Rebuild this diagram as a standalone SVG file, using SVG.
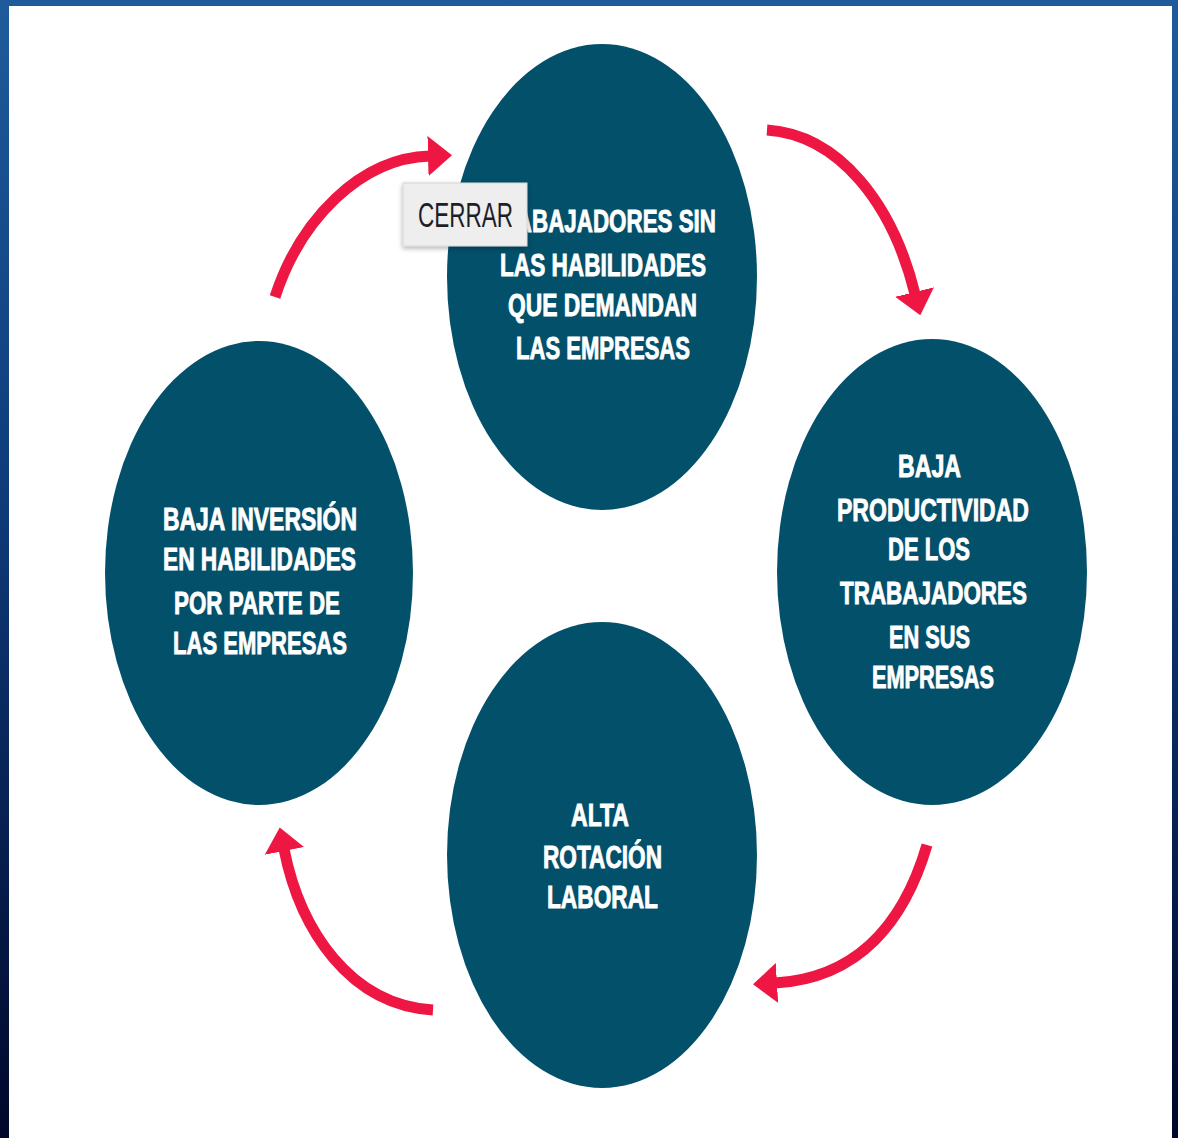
<svg xmlns="http://www.w3.org/2000/svg" width="1178" height="1138" viewBox="0 0 1178 1138">
<defs>
<linearGradient id="bg" x1="0" y1="0" x2="0" y2="1">
<stop offset="0" stop-color="#1f5b9b"/>
<stop offset="0.45" stop-color="#0e3a78"/>
<stop offset="1" stop-color="#00072a"/>
</linearGradient>
<marker id="ah" viewBox="0 0 24 40" markerWidth="24" markerHeight="40" refX="2" refY="20" orient="auto" markerUnits="userSpaceOnUse">
<path d="M0,0 L24,20 L0,40 Z" fill="#ee1642"/>
</marker>
<filter id="sh" x="-20%" y="-20%" width="140%" height="150%">
<feDropShadow dx="0" dy="2" stdDeviation="2.5" flood-color="#000" flood-opacity="0.3"/>
</filter>
<style>
.node{fill:#03506b}
.lbl{font-family:"Liberation Sans",Arial,sans-serif;font-weight:bold;font-size:31px;fill:#ffffff;stroke:#ffffff;stroke-width:0.9;text-anchor:start}
.arr{fill:none;stroke:#ee1642;stroke-width:11;marker-end:url(#ah)}
.btn{font-family:"Liberation Sans",Arial,sans-serif;font-size:35px;fill:#1e1e28}
</style>
</defs>
<rect x="0" y="0" width="1178" height="1138" fill="url(#bg)"/>
<rect x="9" y="6" width="1163" height="1132" fill="#ffffff"/>

<g id="connectors">
<path class="arr" d="M275,297 C300,220 360,158 430,156"/>
<path class="arr" d="M767,130 C840,135 893,205 915,294"/>
<path class="arr" d="M927,845 C905,920 860,978 775,983"/>
<path class="arr" d="M433,1010 C350,1005 300,930 284,849"/>
</g>

<g id="node-top">
<ellipse class="node" cx="602" cy="277" rx="155" ry="233"/>
<text class="lbl" x="486" y="232" textLength="230" lengthAdjust="spacingAndGlyphs">TRABAJADORES SIN</text>
<text class="lbl" x="500" y="276" textLength="206" lengthAdjust="spacingAndGlyphs">LAS HABILIDADES</text>
<text class="lbl" x="508" y="316" textLength="189" lengthAdjust="spacingAndGlyphs">QUE DEMANDAN</text>
<text class="lbl" x="516" y="359" textLength="174" lengthAdjust="spacingAndGlyphs">LAS EMPRESAS</text>
</g>

<g id="node-right">
<ellipse class="node" cx="932" cy="572" rx="155" ry="233"/>
<text class="lbl" x="898" y="477" textLength="63" lengthAdjust="spacingAndGlyphs">BAJA</text>
<text class="lbl" x="837" y="521" textLength="192" lengthAdjust="spacingAndGlyphs">PRODUCTIVIDAD</text>
<text class="lbl" x="888" y="560" textLength="82" lengthAdjust="spacingAndGlyphs">DE LOS</text>
<text class="lbl" x="840" y="604" textLength="187" lengthAdjust="spacingAndGlyphs">TRABAJADORES</text>
<text class="lbl" x="889" y="648" textLength="81" lengthAdjust="spacingAndGlyphs">EN SUS</text>
<text class="lbl" x="872" y="688" textLength="122" lengthAdjust="spacingAndGlyphs">EMPRESAS</text>
</g>

<g id="node-bottom">
<ellipse class="node" cx="602" cy="855" rx="155" ry="233"/>
<text class="lbl" x="571" y="826" textLength="58" lengthAdjust="spacingAndGlyphs">ALTA</text>
<text class="lbl" x="543" y="868" textLength="119" lengthAdjust="spacingAndGlyphs">ROTACIÓN</text>
<text class="lbl" x="547" y="908" textLength="111" lengthAdjust="spacingAndGlyphs">LABORAL</text>
</g>

<g id="node-left">
<ellipse class="node" cx="259" cy="573" rx="154" ry="232"/>
<text class="lbl" x="163" y="530" textLength="194" lengthAdjust="spacingAndGlyphs">BAJA INVERSIÓN</text>
<text class="lbl" x="163" y="570" textLength="193" lengthAdjust="spacingAndGlyphs">EN HABILIDADES</text>
<text class="lbl" x="174" y="614" textLength="166" lengthAdjust="spacingAndGlyphs">POR PARTE DE</text>
<text class="lbl" x="173" y="654" textLength="174" lengthAdjust="spacingAndGlyphs">LAS EMPRESAS</text>
</g>

<g id="close-button">
<rect x="403" y="183" width="124" height="63" fill="#eeeeee" stroke="#d6d6d6" stroke-width="1" filter="url(#sh)"/>
<text class="btn" x="418" y="227" textLength="95" lengthAdjust="spacingAndGlyphs">CERRAR</text>
</g>
</svg>
